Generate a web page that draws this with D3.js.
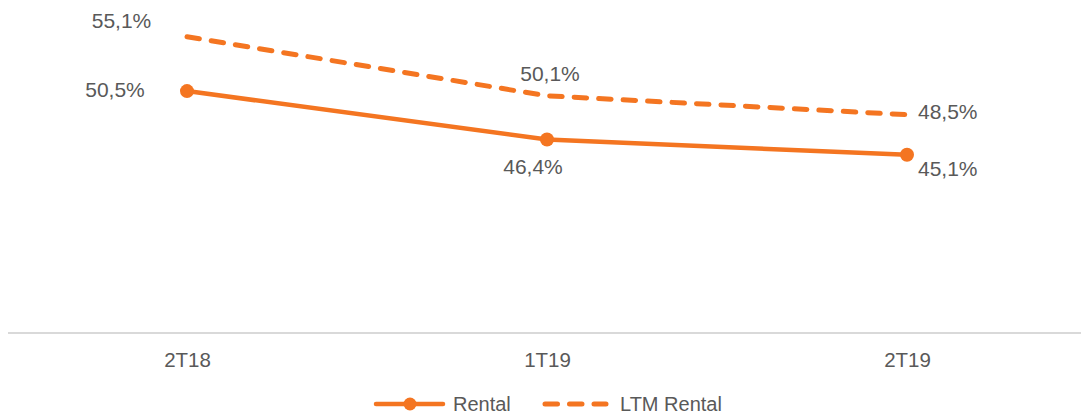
<!DOCTYPE html>
<html>
<head>
<meta charset="utf-8">
<script src="https://cdn.jsdelivr.net/npm/d3@7"></script>
<style>
  html, body { margin: 0; padding: 0; background: #fff; }
  svg { display: block; font-family: "Liberation Sans", Arial, sans-serif; }
</style>
</head>
<body>
<svg id="chart" width="1081" height="416"></svg>
<script>
// Quarters and margin series (%)
const categories = ["2T18", "1T19", "2T19"];
const rental = [50.5, 46.4, 45.1];
const ltmRental = [55.1, 50.1, 48.5];
const seriesNames = ["Rental", "LTM Rental"];

const W = 1081;
const orange = "#F47521";
const textColor = "#595959";

const svg = d3.select("#chart");

const x = d3.scalePoint().domain(categories).range([187, 907]);
const y = d3.scaleLinear().domain([30, 60]).range([333, -21]);

// horizontal category axis line
svg.append("line")
  .attr("x1", 8).attr("x2", W)
  .attr("y1", y(30)).attr("y2", y(30))
  .attr("stroke", "#d9d9d9").attr("stroke-width", 2);

const axis = d3.axisBottom(x).tickSize(0).tickPadding(0);
const gx = svg.append("g").attr("transform", `translate(0,${y(30)})`).call(axis);
gx.select(".domain").remove();
gx.selectAll("text")
  .attr("y", 27)
  .attr("dy", "0.358em")
  .attr("fill", textColor)
  .style("font-size", "20.5px")
  .style("font-family", "'Liberation Sans', Arial, sans-serif");

const line = d3.line().x((d, i) => x(categories[i])).y(d => y(d));

// LTM Rental (dashed)
svg.append("path")
  .datum(ltmRental)
  .attr("d", line)
  .attr("fill", "none")
  .attr("stroke", orange)
  .attr("stroke-width", 5)
  .attr("stroke-linecap", "round")
  .attr("stroke-dasharray", "12.5,12");

// Rental (solid with markers)
svg.append("path")
  .datum(rental)
  .attr("d", line)
  .attr("fill", "none")
  .attr("stroke", orange)
  .attr("stroke-width", 4.5)
  .attr("stroke-linecap", "round");

svg.selectAll("circle.pt")
  .data(rental)
  .join("circle")
  .attr("class", "pt")
  .attr("cx", (d, i) => x(categories[i]))
  .attr("cy", d => y(d))
  .attr("r", 7)
  .attr("fill", orange);

const fmt = v => v.toFixed(1).replace(".", ",") + "%";

// value labels: [dx, dy, anchor] relative to the point (dy to text centre)
const rentalLabelPos = [[-72, -1.3, "middle"], [-14, 27.2, "middle"], [11, 13.7, "start"]];
const ltmLabelPos = [[-65.5, -16, "middle"], [3, -22.7, "middle"], [11, -3.7, "start"]];

function labels(data, pos) {
  svg.append("g").selectAll("text")
    .data(data)
    .join("text")
    .attr("x", (d, i) => x(categories[i]) + pos[i][0])
    .attr("y", (d, i) => y(d) + pos[i][1])
    .attr("dy", "0.358em")
    .attr("text-anchor", (d, i) => pos[i][2])
    .attr("fill", textColor)
    .style("font-size", "21px")
    .text(fmt);
}
labels(rental, rentalLabelPos);
labels(ltmRental, ltmLabelPos);

// legend
const lg = svg.append("g").attr("transform", "translate(0,404)");
lg.append("line").attr("x1", 376).attr("x2", 443).attr("y1", 0).attr("y2", 0)
  .attr("stroke", orange).attr("stroke-width", 4.5).attr("stroke-linecap", "round");
lg.append("circle").attr("cx", 410).attr("cy", 0).attr("r", 6.5).attr("fill", orange);
lg.append("text").attr("x", 453).attr("y", 0).attr("dy", "0.358em")
  .attr("fill", textColor).style("font-size", "20px").text(seriesNames[0]);
lg.append("line").attr("x1", 545).attr("x2", 606).attr("y1", 0).attr("y2", 0)
  .attr("stroke", orange).attr("stroke-width", 5).attr("stroke-linecap", "round")
  .attr("stroke-dasharray", "12.5,12");
lg.append("text").attr("x", 620).attr("y", 0).attr("dy", "0.358em")
  .attr("fill", textColor).style("font-size", "20px").text(seriesNames[1]);
</script>
</body>
</html>
